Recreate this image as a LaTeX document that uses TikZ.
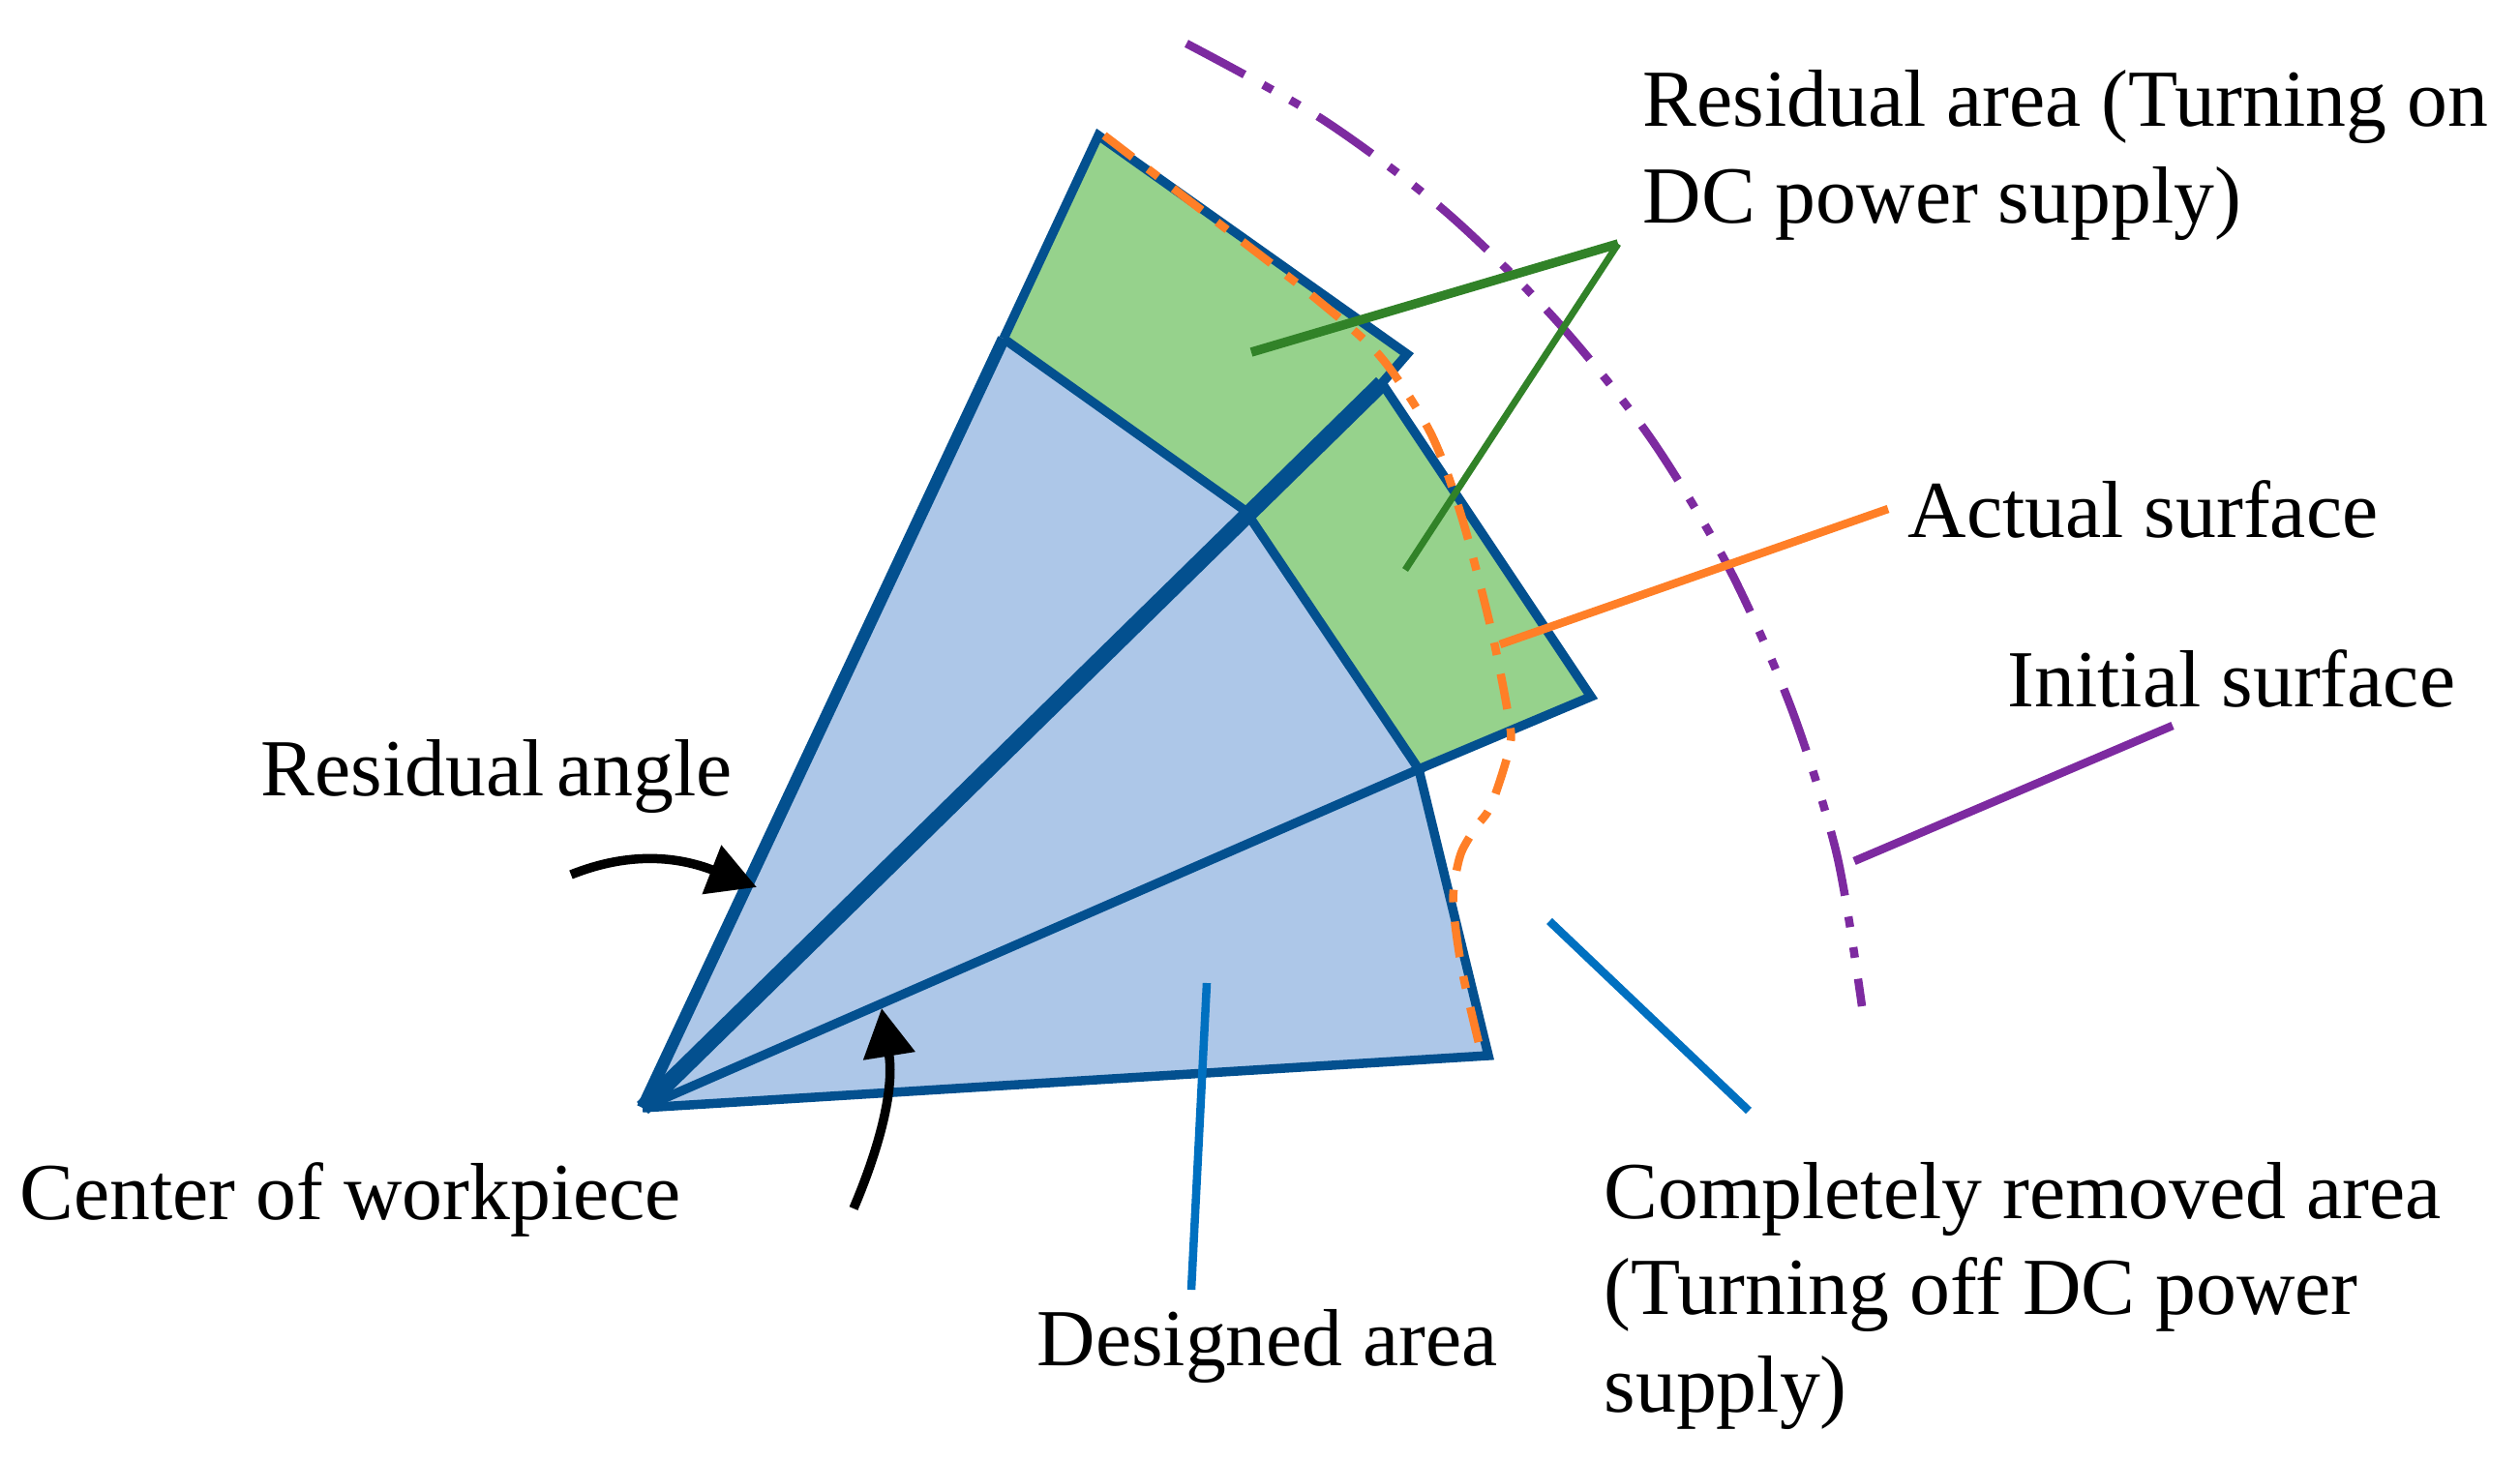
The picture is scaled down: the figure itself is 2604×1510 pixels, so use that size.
\documentclass[tikz,border=0pt]{standalone}
\usepackage{xcolor}
\usepackage{fontspec}
\setmainfont{Liberation Serif}
\usepackage{tikz}
\usetikzlibrary{arrows.meta}

\definecolor{sectorblue}{RGB}{173,199,232}
\definecolor{sectorgreen}{RGB}{150,210,140}
\definecolor{edgeblue}{RGB}{3,80,143}
\definecolor{leadgreen}{RGB}{49,130,40}
\definecolor{leadorange}{RGB}{255,127,39}
\definecolor{leadpurple}{RGB}{125,42,160}
\definecolor{leadblue}{RGB}{0,112,192}

\begin{document}
\begin{tikzpicture}[x=0.01cm, y=-0.01cm]
  \tikzstyle{edge} = [draw=edgeblue, line width=0.095cm, line join=miter]
  \tikzstyle{label} = [inner sep=0pt, font=\fontsize{23.8}{29}\selectfont, anchor=base west]
  \tikzstyle{lead} = [line width=0.085cm]
  \tikzstyle{turn} = [line width=0.095cm, black, -{Triangle[length=0.5cm, width=0.52cm]}]

  \useasboundingbox (0,0) rectangle (2604,1510);

  \coordinate (center) at (664,1145);
  \coordinate (top_a) at (1135,140);
  \coordinate (top_b) at (1454,366);
  \coordinate (left_mid) at (1037,350);
  \coordinate (inner) at (1287,528);
  \coordinate (notch) at (1428,396);
  \coordinate (right_d) at (1644,720);
  \coordinate (inner_e) at (1466,795);
  \coordinate (foot) at (1538,1091);

  % filled sectors
  \fill[sectorblue] (center) -- (left_mid) -- (inner) -- (inner_e) -- (foot) -- cycle;
  \fill[sectorgreen] (top_a) -- (top_b) -- (notch) -- (inner) -- (left_mid) -- cycle;
  \fill[sectorgreen] (notch) -- (right_d) -- (inner_e) -- (inner) -- cycle;

  % outlines
  \draw[edge] (left_mid) -- (top_a) -- (top_b) -- (notch) -- (right_d) -- (inner_e) -- (foot) -- (center);
  \draw[edge] (left_mid) -- (inner) -- (inner_e) -- (center);
  \draw[edge, line width=0.125cm] (center) -- (left_mid);
  \draw[edge, line width=0.17cm] (center) -- (notch);

  % surfaces
  \draw[leadpurple, line width=0.085cm, dash pattern=on 0.68cm off 0.22cm on 0.11cm off 0.21cm on 0.11cm off 0.22cm]
    plot[smooth] coordinates {(1226,45) (1366,123) (1493,218) (1607,330) (1705,452) (1787,588) (1851,732) (1898,883) (1924,1040)};
  \draw[leadorange, line width=0.085cm, dash pattern=on 0.37cm off 0.2cm on 0.13cm off 0.2cm]
    plot[smooth] coordinates {(1141,140) (1287,252) (1359,308) (1426,368) (1478,447) (1510,533) (1541,651) (1559,742) (1560,772) (1541,832) (1525,855) (1510,881) (1503,912) (1502,941) (1511,1004) (1529,1082)};

  % leaders
  \coordinate (green_apex) at (1672,252);
  \coordinate (green_up) at (1293,364);
  \coordinate (green_low) at (1452,589);
  \coordinate (orange_in) at (1550,666);
  \coordinate (orange_out) at (1951,526);
  \coordinate (purple_in) at (1916,890);
  \coordinate (purple_out) at (2245,750);
  \coordinate (removed_in) at (1601,952);
  \coordinate (removed_out) at (1807,1148);
  \coordinate (design_in) at (1247,1016);
  \coordinate (design_out) at (1231,1333);

  \draw[leadgreen, line width=0.07cm] (green_low) -- (green_apex);
  \draw[leadgreen, line width=0.095cm] (green_up) -- (green_apex);
  \draw[lead, leadorange] (orange_in) -- (orange_out);
  \draw[lead, leadpurple] (purple_in) -- (purple_out);
  \draw[lead, leadblue] (removed_in) -- (removed_out);
  \draw[lead, leadblue] (design_in) -- (design_out);

  % angle arrows
  \coordinate (turn_a) at (590,904);
  \coordinate (turn_a_tip) at (782,917);
  \coordinate (turn_b) at (882,1249);
  \coordinate (turn_b_tip) at (911,1042);
  \draw[turn] (turn_a) .. controls (650,880) and (700,885) .. (turn_a_tip);
  \draw[turn] (turn_b) .. controls (905,1195) and (925,1130) .. (turn_b_tip);

  % labels
  \node[label] (resid_on1) at (1697,131) {Residual area (Turning on};
  \node[label] (resid_on2) at (1697,231) {DC power supply)};
  \node[label] (actual) at (1971,556) {Actual surface};
  \node[label] (initial) at (2074,731) {Initial surface};
  \node[label] (resid_angle) at (269,822) {Residual\hspace{0.13cm}angle};
  \node[label] (workcenter) at (20,1260) {Center of workpiece};
  \node[label] (designed) at (1071,1411) {Designed area};
  \node[label] (removed1) at (1657,1259) {Completely removed area};
  \node[label] (removed2) at (1657,1358) {(Turning off DC power};
  \node[label] (removed3) at (1657,1459) {supply)};
\end{tikzpicture}
\end{document}
